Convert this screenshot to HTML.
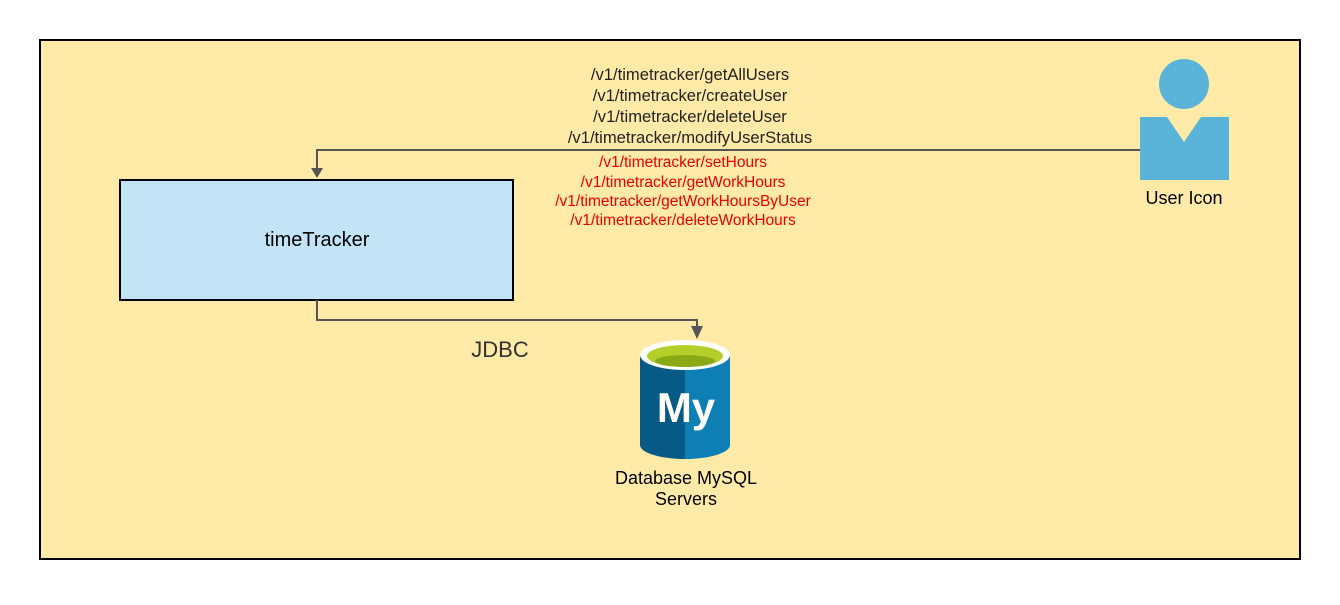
<!DOCTYPE html>
<html><head><style>
body{margin:0;width:1340px;height:600px;background:#fff;overflow:hidden;font-family:"Liberation Sans",sans-serif;}
</style></head><body>
<svg width="1340" height="600" xmlns="http://www.w3.org/2000/svg" font-family="Liberation Sans, sans-serif">
<rect x="40" y="40" width="1260" height="519" fill="#ffeaa7" stroke="#000" stroke-width="2"/>
<rect x="120" y="180" width="393" height="120" fill="#c3e4f7" stroke="#000" stroke-width="2"/>
<text x="317" y="246" font-size="20" text-anchor="middle">timeTracker</text>
<path d="M1140 150 H317 V172" fill="none" stroke="#555" stroke-width="2"/>
<path d="M311 168 L317 178 L323 168Z" fill="#555"/>
<path d="M317 300 V320 H697 V332" fill="none" stroke="#555" stroke-width="2"/>
<path d="M691 326 L697 339 L703 326Z" fill="#555"/>
<g font-size="16.6" text-anchor="middle" fill="#222">
<text x="690" y="80">/v1/timetracker/getAllUsers</text>
<text x="690" y="101">/v1/timetracker/createUser</text>
<text x="690" y="122">/v1/timetracker/deleteUser</text>
<text x="690" y="143">/v1/timetracker/modifyUserStatus</text>
</g>
<g font-size="15.5" text-anchor="middle" fill="#e00">
<text x="683" y="167">/v1/timetracker/setHours</text>
<text x="683" y="187">/v1/timetracker/getWorkHours</text>
<text x="683" y="206">/v1/timetracker/getWorkHoursByUser</text>
<text x="683" y="225">/v1/timetracker/deleteWorkHours</text>
</g>
<text x="500" y="357" font-size="22" text-anchor="middle" fill="#333">JDBC</text>
<circle cx="1184" cy="84" r="25" fill="#5ab3d9"/>
<path d="M1140 117 H1167 L1184 142 L1201 117 H1229 V180 H1140Z" fill="#5ab3d9"/>
<text x="1184" y="204" font-size="18" text-anchor="middle">User Icon</text>
<path d="M640 355 V445 A45 14 0 0 0 685 459 V355Z" fill="#065a85"/>
<path d="M685 355 V459 A45 14 0 0 0 730 445 V355Z" fill="#0e7fb5"/>
<ellipse cx="685" cy="355" rx="45" ry="15" fill="#fff"/>
<ellipse cx="685" cy="356" rx="38" ry="11" fill="#b5cf2a"/>
<ellipse cx="685" cy="361" rx="30" ry="6" fill="#8aa914"/>
<text x="686" y="422" font-size="42" font-weight="bold" text-anchor="middle" fill="#fff">My</text>
<text x="686" y="484" font-size="18" text-anchor="middle">Database MySQL</text>
<text x="686" y="505" font-size="18" text-anchor="middle">Servers</text>
</svg>
</body></html>
